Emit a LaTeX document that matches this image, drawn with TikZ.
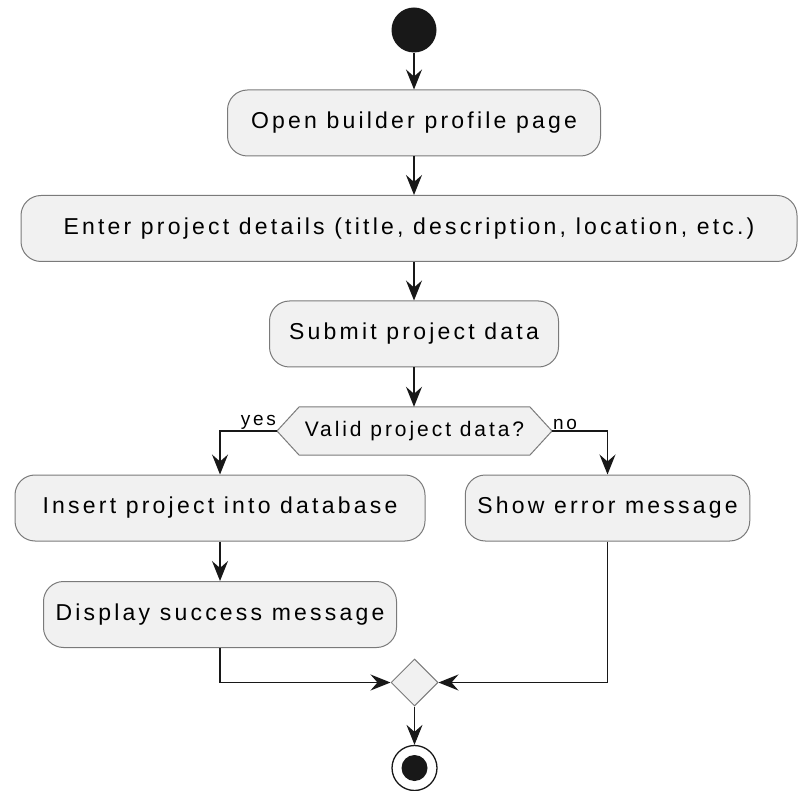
\documentclass[tikz,border=0pt]{standalone}
\usepackage{fontspec}
\setmainfont{Liberation Sans}[LetterSpace=14]
\usepackage{tikz}
\usetikzlibrary{positioning,arrows.meta,shapes.geometric}
\definecolor{boxfill}{HTML}{F1F1F1}
\definecolor{boxline}{HTML}{7A7A7A}
\definecolor{edge}{HTML}{181818}

\begin{document}
\begin{tikzpicture}[x=1pt, y=-1pt,
    action/.style={draw=boxline, fill=boxfill, line width=1pt, rounded corners=20pt,
      minimum height=66pt, inner xsep=12pt, font=\fontsize{23}{27}\selectfont},
    flow/.style={draw=edge, line width=1.3pt, -{Stealth[length=20pt, width=16pt, inset=7pt]}},
    lbl/.style={font=\fontsize{19}{22}\selectfont, inner sep=1pt}]
      \useasboundingbox (0,0) rectangle (798,791);

      \node[circle, fill=edge, minimum size=45pt, inner sep=0pt] (start) at (414,30) {};
      \node[action, minimum width=373pt] (open) at (414,123) {Open builder profile page};
      \node[action, minimum width=776pt] (enter) at (409,228.5) {Enter project details (title, description, location, etc.)};
      \node[action, minimum width=289pt] (submit) at (414,334) {Submit project data};

      % decision
      \filldraw[draw=boxline, fill=boxfill, line width=1pt]
        (277,431) -- (299,407) -- (530,407) -- (552,431) -- (530,455) -- (299,455) -- cycle;
      \node[minimum height=48pt, font=\fontsize{21}{25}\selectfont] (valid) at (414.5,431) {Valid project data?};
      \coordinate (validL) at (277,431);
      \coordinate (validR) at (552,431);
      \node[lbl, anchor=south east] (yes) at (validL) {yes};
      \node[lbl, anchor=south west] (no) at (validR) {no};

      \node[action, minimum width=410pt] (insert) at (220,508) {Insert project into database};
      \node[action, minimum width=283pt] (error) at (607.5,508) {Show error message};
      \node[action, minimum width=350pt] (success) at (220,614.5) {Display success message};

      \node[diamond, draw=boxline, fill=boxfill, line width=1pt, minimum size=47pt, inner sep=0pt] (merge) at (414.5,682.5) {};
      \node[circle, draw=edge, line width=1.3pt, fill=white, minimum size=45pt, inner sep=0pt] (stop) at (414.5,768) {};
      \node[circle, fill=edge, minimum size=26pt, inner sep=0pt] (stopdot) at (stop) {};

      \draw[flow] (start) -- (open);
      \draw[flow] (open) -- (open |- enter.north);
      \draw[flow] (enter.south -| submit) -- (submit);
      \draw[flow] (submit) -- (submit |- valid.north);
      \draw[flow] (validL) -| (insert);
      \draw[flow] (validR) -| (error);
      \draw[flow] (insert) -- (success);
      \draw[flow] (success) |- (merge);
      \draw[flow] (error) |- (merge);
      \draw[flow] (merge) -- (stop);
    \end{tikzpicture}
\end{document}
